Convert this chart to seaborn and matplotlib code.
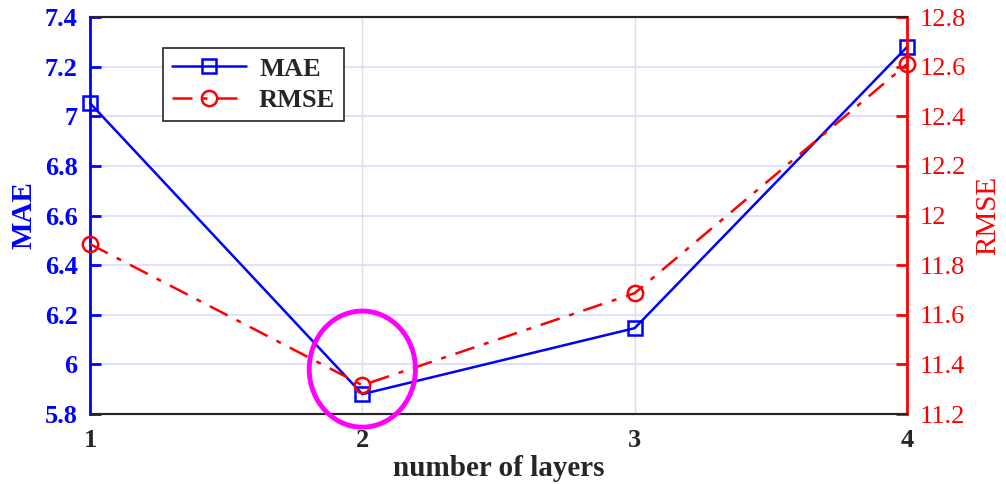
import numpy as np
import pandas as pd
import matplotlib
matplotlib.use("Agg")
import matplotlib.pyplot as plt
from matplotlib.patches import Ellipse
import seaborn as sns

# Results per number of layers
layers = [1, 2, 3, 4]
mae = [7.053, 5.880, 6.146, 7.279]
rmse = [11.885, 11.316, 11.687, 12.610]
mae_ticks = [5.8, 6.0, 6.2, 6.4, 6.6, 6.8, 7.0, 7.2, 7.4]
rmse_ticks = [11.2, 11.4, 11.6, 11.8, 12.0, 12.2, 12.4, 12.6, 12.8]

sns.set_theme(style="white")
plt.rcParams["font.family"] = ["Liberation Serif", "DejaVu Serif"]

df = pd.DataFrame({"layers": layers, "MAE": mae, "RMSE": rmse})

fig = plt.figure(figsize=(10.06, 4.84), dpi=100)
ax = fig.add_axes([90 / 1006, 1 - 414 / 484, 817 / 1006, 397 / 484])
ax2 = ax.twinx()

sns.lineplot(data=df, x="layers", y="MAE", ax=ax, color="#0000ff", lw=1.8,
             marker="s", markersize=10, markerfacecolor="none",
             markeredgecolor="#0000ff", markeredgewidth=1.8, label="MAE",
             legend=False, clip_on=False, zorder=4)
sns.lineplot(data=df, x="layers", y="RMSE", ax=ax2, color="#ff0000", lw=1.8,
             linestyle="-.", marker="o", markersize=11, markerfacecolor="none",
             markeredgecolor="#ff0000", markeredgewidth=1.8, label="RMSE",
             legend=False, clip_on=False, zorder=4)
ax2.lines[0].set_dashes([8, 4, 2, 4])

ax.set_xlim(1, 4)
ax.set_ylim(5.8, 7.4)
ax2.set_ylim(11.2, 12.8)
ax.set_xticks(layers)
ax.set_yticks(mae_ticks)
ax2.set_yticks(rmse_ticks)
ax.set_yticklabels([f"{v:g}" for v in mae_ticks])
ax2.set_yticklabels([f"{v:g}" for v in rmse_ticks])

# grid: bluish horizontal lines, grey vertical lines
for v in mae_ticks[1:-1]:
    ax.axhline(v, color="#dcdcff", lw=1.2, zorder=0)
for v in layers[1:-1]:
    ax.axvline(v, color="#dedede", lw=1.0, zorder=0)

# spines
for a in (ax, ax2):
    a.spines["top"].set_color("#262626")
    a.spines["bottom"].set_color("#262626")
    a.spines["top"].set_linewidth(1.5)
    a.spines["bottom"].set_linewidth(1.5)
ax.spines["left"].set_color("#0000ff")
ax.spines["left"].set_linewidth(2)
ax2.spines["right"].set_color("#ff0000")
ax2.spines["right"].set_linewidth(2)
ax2.spines["left"].set_visible(False)
ax.spines["right"].set_visible(False)

ax.tick_params(axis="y", direction="in", length=8, width=2, colors="#0000ff",
               labelsize=19, pad=9)
ax2.tick_params(axis="y", direction="in", length=8, width=2, colors="#ff0000",
                labelsize=19, pad=9)
ax.tick_params(axis="x", direction="in", length=8, width=1.5, colors="#262626",
               labelsize=19, pad=11, top=False)
for lbl in ax.get_yticklabels():
    lbl.set_fontweight("bold")
for lbl in ax.get_xticklabels():
    lbl.set_fontweight("bold")

ax.set_xlabel("number of layers", fontsize=21, fontweight="bold", color="#262626",
              labelpad=2)
ax.set_ylabel("MAE", fontsize=21, fontweight="bold", color="#0000ff", labelpad=5)
ax2.set_ylabel("RMSE", fontsize=21, color="#ff0000", labelpad=7)

# highlight the best configuration
ax2.add_patch(Ellipse((2, 11.381), width=0.39, height=0.468, fill=False,
                      edgecolor="#ff00ff", lw=3.5, zorder=5, clip_on=False))

handles = ax.get_lines()[:1] + ax2.get_lines()[:1]
leg = ax2.legend(handles, ["MAE", "RMSE"], loc="upper left",
                 bbox_to_anchor=(0.089, 0.922), borderaxespad=0, frameon=True,
                 fancybox=False, edgecolor="#262626", framealpha=1,
                 borderpad=0.35, labelspacing=0.3, handlelength=2.8,
                 handletextpad=0.5, prop={"weight": "bold", "size": 19})
leg.get_frame().set_linewidth(1.2)

fig.savefig("out.png", dpi=100)
